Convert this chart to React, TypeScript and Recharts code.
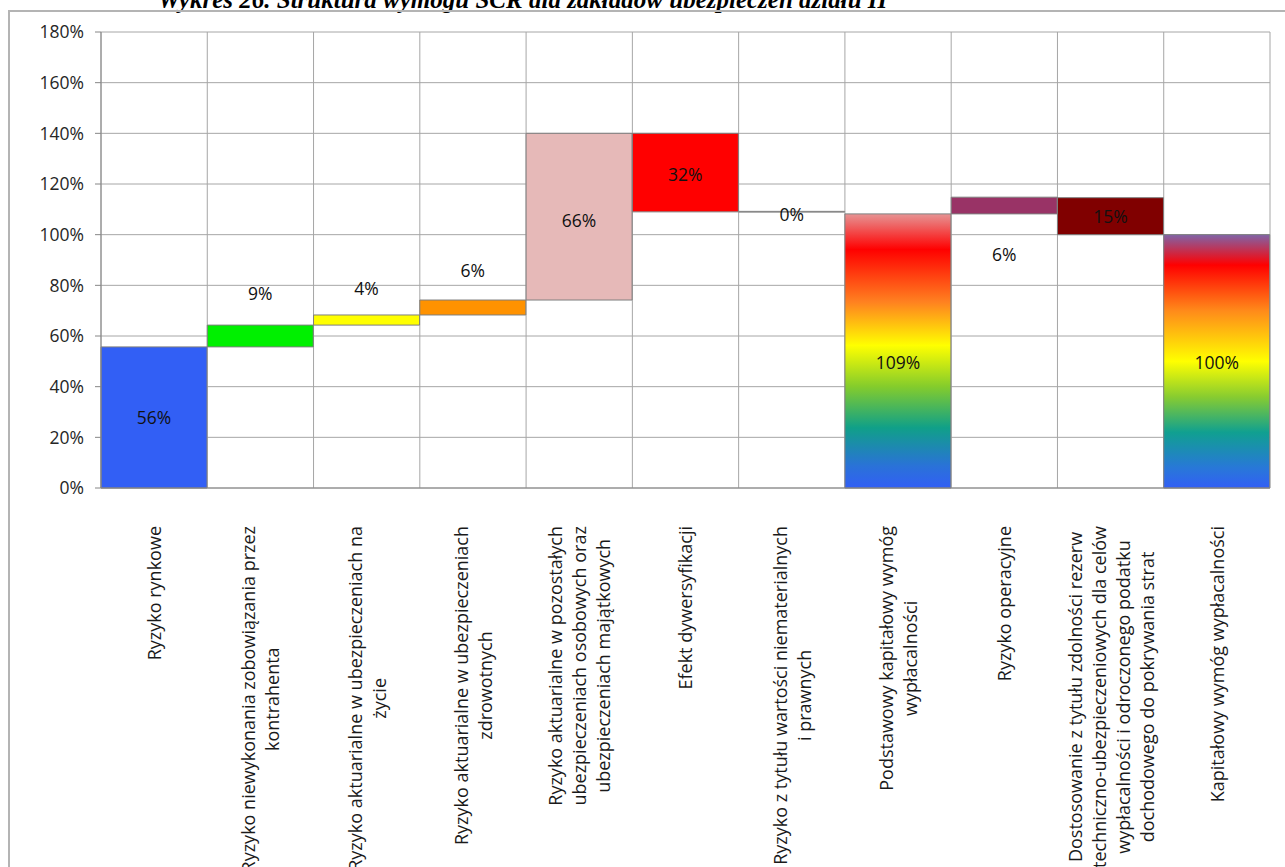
import { Bar, BarChart, CartesianGrid, Cell, LabelList, XAxis, YAxis } from "recharts";

const categories = [
  "Ryzyko rynkowe",
  "Ryzyko niewykonania zobowiązania przez\nkontrahenta",
  "Ryzyko aktuarialne w ubezpieczeniach na\nżycie",
  "Ryzyko aktuarialne w ubezpieczeniach\nzdrowotnych",
  "Ryzyko aktuarialne w pozostałych\nubezpieczeniach osobowych oraz\nubezpieczeniach majątkowych",
  "Efekt dywersyfikacji",
  "Ryzyko z tytułu wartości niematerialnych\ni prawnych",
  "Podstawowy kapitałowy wymóg\nwypłacalności",
  "Ryzyko operacyjne",
  "Dostosowanie z tytułu zdolności rezerw\ntechniczno-ubezpieczeniowych dla celów\nwypłacalności i odroczonego podatku\ndochodowego do pokrywania strat",
  "Kapitałowy wymóg wypłacalności",
];

// waterfall segments: bottom and top of each bar, in %
const lows = [0, 55.7, 64.3, 68.3, 74.2, 109.0, 108.9, 0, 108.2, 100.0, 0];
const highs = [55.7, 64.3, 68.3, 74.2, 140.0, 140.0, 109.2, 108.2, 114.8, 114.6, 100.0];
const valueLabels = ["56%", "9%", "4%", "6%", "66%", "32%", "0%", "109%", "6%", "15%", "100%"];
const yTicks = [0, 20, 40, 60, 80, 100, 120, 140, 160, 180];

const barFills = [
  "#325ff5",
  "#00f000",
  "#ffff00",
  "#ff9200",
  "#e6b9b8",
  "#ff0000",
  "#ffffff",
  "url(#rainbowA)",
  "#993366",
  "#800000",
  "url(#rainbowB)",
];

const title = "Wykres 26. Struktura wymogu SCR dla zakładów ubezpieczeń działu II";

const data = categories.map((name, i) => ({
  name,
  range: [lows[i], highs[i]],
  label: valueLabels[i],
}));

// where each value label sits relative to its bar
const labelAnchor = ["mid", "top", "top", "top", "mid", "mid", "mid", "mid", "bottom", "mid", "mid"];
const labelDy = [0, -32, -27, -30, 3, 1, 2, 11, 40, 0, 1];

const FONT = '"Open Sans", sans-serif';
const CAT_FONT_SIZE = 18;
const NUM_FONT_SIZE = 17.5;

let canvasCtx: CanvasRenderingContext2D | null = null;
function measure(text: string, size: number) {
  if (!canvasCtx) canvasCtx = document.createElement("canvas").getContext("2d");
  if (!canvasCtx) return text.length * size * 0.5;
  canvasCtx.font = `${size}px "Open Sans"`;
  return canvasCtx.measureText(text).width;
}

function CategoryTick({ x, y, payload }: any) {
  const lines = String(payload.value).split("\n");
  const maxW = Math.max(...lines.map((l) => measure(l, CAT_FONT_SIZE)));
  const cy = y + 38 + maxW / 2;
  const step = 24;
  return (
    <g>
      {lines.map((line, i) => {
        const lx = x + (i - (lines.length - 1) / 2) * step;
        return (
          <text
            key={i}
            x={lx}
            y={cy}
            transform={`rotate(-90 ${lx} ${cy})`}
            textAnchor="middle"
            dominantBaseline="central"
            fontFamily={FONT}
            fontSize={CAT_FONT_SIZE}
            fill="#1a1a1a"
          >
            {line}
          </text>
        );
      })}
    </g>
  );
}

function ValueLabel(props: any) {
  const vb = props.viewBox ?? props;
  const { x, y, width, height } = vb;
  const i = props.index;
  const top = Math.min(y, y + height);
  const bottom = Math.max(y, y + height);
  let cy = (top + bottom) / 2;
  if (labelAnchor[i] === "top") cy = top;
  if (labelAnchor[i] === "bottom") cy = bottom;
  cy += labelDy[i];
  return (
    <text
      x={x + width / 2}
      y={cy}
      textAnchor="middle"
      dominantBaseline="central"
      fontFamily={FONT}
      fontSize={NUM_FONT_SIZE}
      fill="#111"
    >
      {valueLabels[i]}
    </text>
  );
}

export default function App() {
  return (
    <div
      style={{
        position: "absolute",
        left: 0,
        top: 0,
        width: 1285,
        height: 867,
        overflow: "hidden",
        background: "#fff",
      }}
    >
      <div
        style={{
          position: "absolute",
          left: 158,
          top: -13,
          fontFamily: '"Liberation Serif", serif',
          fontWeight: "bold",
          fontStyle: "italic",
          fontSize: 25,
          lineHeight: "25px",
          whiteSpace: "nowrap",
          color: "#000",
        }}
      >
        {title}
      </div>
      <div
        style={{
          position: "absolute",
          left: 8,
          top: 10,
          width: 1300,
          height: 900,
          border: "2px solid #b4b4b4",
        }}
      />
      <div style={{ position: "absolute", left: 0, top: 0 }}>
        <BarChart
          width={1285}
          height={867}
          data={data}
          barCategoryGap={0}
          margin={{ top: 32, right: 15, bottom: 0, left: 0 }}
        >
          <defs>
            <linearGradient id="rainbowA" x1="0" y1="0" x2="0" y2="1">
              <stop offset="0%" stopColor="#e69494" />
              <stop offset="13%" stopColor="#ff0000" />
              <stop offset="32%" stopColor="#ff8020" />
              <stop offset="48%" stopColor="#ffff00" />
              <stop offset="63%" stopColor="#84cc2c" />
              <stop offset="78%" stopColor="#10a088" />
              <stop offset="92%" stopColor="#2a72d8" />
              <stop offset="100%" stopColor="#325ff5" />
            </linearGradient>
            <linearGradient id="rainbowB" x1="0" y1="0" x2="0" y2="1">
              <stop offset="0%" stopColor="#8064a8" />
              <stop offset="12%" stopColor="#ff0000" />
              <stop offset="30%" stopColor="#ff8a1a" />
              <stop offset="50%" stopColor="#ffff00" />
              <stop offset="64%" stopColor="#88cc30" />
              <stop offset="78%" stopColor="#10a090" />
              <stop offset="92%" stopColor="#2878d8" />
              <stop offset="100%" stopColor="#325ff5" />
            </linearGradient>
          </defs>
          <CartesianGrid
            stroke="#a6a6a6"
            verticalCoordinatesGenerator={({ offset }: any) =>
              Array.from({ length: categories.length + 1 }, (_, i) => offset.left + (i * offset.width) / categories.length)
            }
          />
          <XAxis
            dataKey="name"
            height={379}
            interval={0}
            tickLine={false}
            tickSize={0}
            tickMargin={0}
            axisLine={{ stroke: "#868686" }}
            tick={<CategoryTick />}
          />
          <YAxis
            width={101}
            domain={[0, 180]}
            ticks={yTicks}
            tickFormatter={(v: number) => `${v}%`}
            tickSize={6}
            tickMargin={11}
            tickLine={{ stroke: "#868686" }}
            axisLine={{ stroke: "#868686" }}
            tick={{ fill: "#262626", fontSize: NUM_FONT_SIZE, fontFamily: FONT }}
          />
          <Bar dataKey="range" stroke="#7f7f7f" strokeWidth={1} isAnimationActive={false}>
            {data.map((d, i) => (
              <Cell key={d.name} fill={barFills[i]} />
            ))}
            <LabelList dataKey="label" content={<ValueLabel />} />
          </Bar>
        </BarChart>
      </div>
    </div>
  );
}
